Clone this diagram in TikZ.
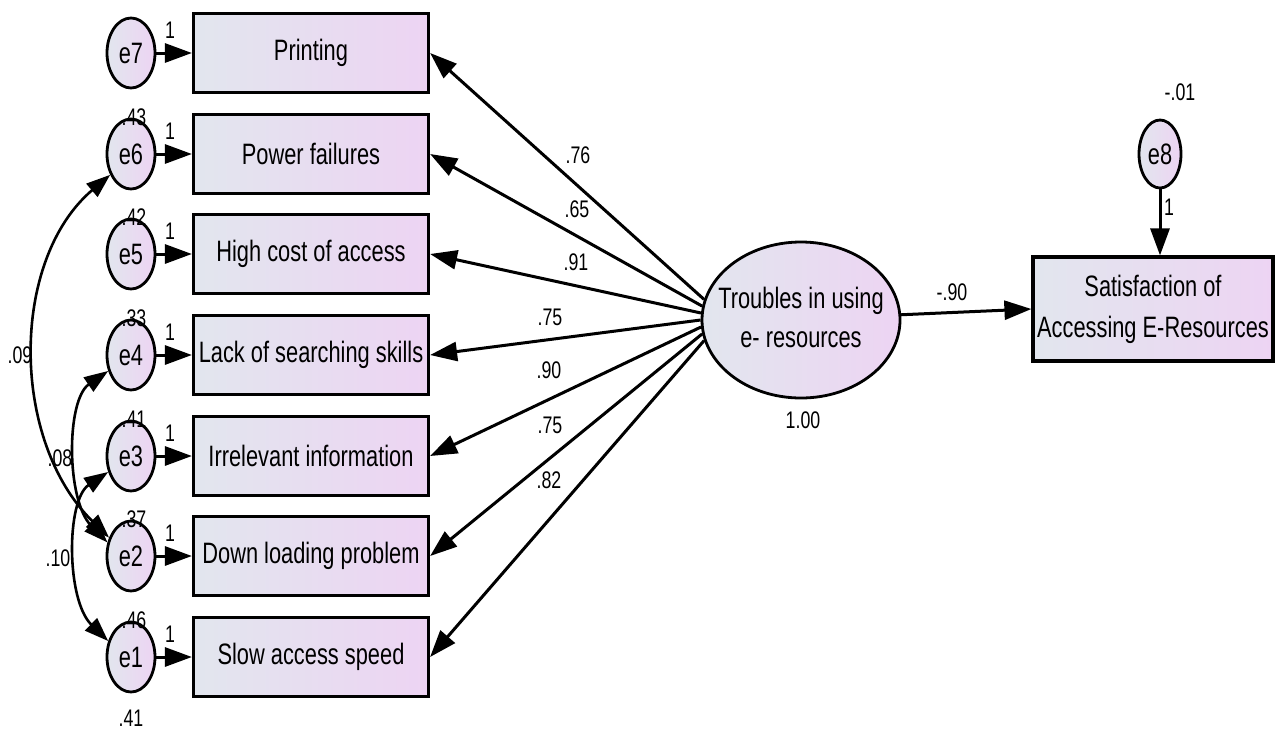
\documentclass[tikz,border=0pt]{standalone}
\usepackage{fontspec}
\setmainfont{Liberation Sans}
\usepackage{graphicx}
\usetikzlibrary{arrows.meta,shapes.geometric}
\definecolor{fillL}{RGB}{226,230,238}
\definecolor{fillR}{RGB}{237,212,243}
\newcommand\cmp[1]{\scalebox{0.74}[1]{#1}}
\newcommand\bigf{\fontsize{29.5}{39}\selectfont}
\newcommand\smallf{\fontsize{24}{28}\selectfont}
\begin{document}
\begin{tikzpicture}[x=1pt,y=-1pt,
  obs/.style={draw, line width=3.2pt, rectangle, minimum width=235pt, minimum height=79pt, inner sep=0pt, left color=fillL, right color=fillR, font=\bigf},
  err/.style={draw, ellipse, line width=2.8pt, minimum width=48pt, minimum height=70pt, inner sep=0pt, left color=fillL, right color=fillR},
  txt/.style={font=\bigf, inner sep=0pt},
  con/.style={line width=3pt, -{Triangle[length=27pt,width=19pt]}},
  cov/.style={line width=2.6pt, {Triangle[length=24pt,width=17pt]}-{Triangle[length=24pt,width=17pt]}},
  lab/.style={font=\smallf, inner sep=0pt}]
\useasboundingbox (0,0) rectangle (1276,729);
% observed boxes
\node[obs] (b7) at (311,53)  {\cmp{Printing}};
\node[obs] (b6) at (311,154) {\cmp{Power failures}};
\node[obs] (b5) at (311,254) {\cmp{High cost of access}};
\node[obs] (b4) at (311,355) {\cmp{Lack of searching skills}};
\node[obs] (b3) at (311,456) {\cmp{Irrelevant information}};
\node[obs] (b2) at (311,556) {\cmp{Down loading problem}};
\node[obs] (b1) at (311,657) {\cmp{Slow access speed}};
% error terms
\foreach \i/\y in {7/53,6/154,5/254,4/355,3/456,2/556,1/657}{
  \node[err] (e\i) at (131,\y) {};
  \node[txt] (et\i) at (e\i) {\cmp{e\i}};
  \draw[con] (e\i.east) -- (b\i.west);
}
% "1" labels
\node[lab] (one7) at (170,30)  {\cmp{1}};
\node[lab] (one6) at (170,131) {\cmp{1}};
\node[lab] (one5) at (170,231) {\cmp{1}};
\node[lab] (one4) at (170,332) {\cmp{1}};
\node[lab] (one3) at (170,433) {\cmp{1}};
\node[lab] (one2) at (170,533) {\cmp{1}};
\node[lab] (one1) at (170,634) {\cmp{1}};
% variances
\node[lab] (v6) at (134,117) {\cmp{.43}};
\node[lab] (v5) at (134,217) {\cmp{.42}};
\node[lab] (v4) at (134,318) {\cmp{.33}};
\node[lab] (v3) at (134,419) {\cmp{.41}};
\node[lab] (v2) at (134,519) {\cmp{.37}};
\node[lab] (v1) at (134,620) {\cmp{.46}};
\node[lab] (v0) at (131,718) {\cmp{.41}};
% covariances
\draw[cov] (e6.225) .. controls (10,260) and (10,440) .. (e2.140);
\draw[cov] (e4.215) .. controls (66,400) and (66,500) .. (e2.150);
\draw[cov] (e3.215) .. controls (66,500) and (66,600) .. (e1.145);
\node[lab] (c09) at (20,355) {\cmp{.09}};
\node[lab] (c08) at (60,458) {\cmp{.08}};
\node[lab] (c10) at (58,558) {\cmp{.10}};
% latent
\node[draw, ellipse, line width=2.8pt, minimum width=198pt, minimum height=156pt, inner sep=0pt, left color=fillL, right color=fillR] (t) at (801,320) {};
\node[txt] (tt) at (t) {\cmp{\begin{tabular}{@{}c@{}}Troubles in using\\e- resources\end{tabular}}};
\node[lab] (tv) at (803,420) {\cmp{1.00}};
\draw[con] (t.168) -- (b7.east);
\draw[con] (t.172) -- (b6.east);
\draw[con] (t.176) -- (b5.east);
\draw[con] (t.180) -- (b4.east);
\draw[con] (t.184) -- (b3.east);
\draw[con] (t.188) -- (b2.east);
\draw[con] (t.192) -- (b1.east);
\node[lab] (l7) at (578,155) {\cmp{.76}};
\node[lab] (l6) at (577,209) {\cmp{.65}};
\node[lab] (l5) at (576,262) {\cmp{.91}};
\node[lab] (l4) at (550,317) {\cmp{.75}};
\node[lab] (l3) at (549,370) {\cmp{.90}};
\node[lab] (l2) at (550,425) {\cmp{.75}};
\node[lab] (l1) at (549,480) {\cmp{.82}};
% outcome
\node[draw, rectangle, line width=3.2pt, minimum width=240pt, minimum height=104pt, inner sep=0pt, left color=fillL, right color=fillR, font=\fontsize{29.5}{41}\selectfont] (s) at (1153,309)
  {\cmp{\begin{tabular}{@{}c@{}}Satisfaction of\\Accessing E-Resources\end{tabular}}};
\draw[con] (t.3) -- (s.west);
\node[lab] (p90) at (952,292) {\cmp{-.90}};
\node[draw, ellipse, line width=2.8pt, minimum width=42pt, minimum height=68pt, inner sep=0pt, left color=fillL, right color=fillR] (e8) at (1160,154) {};
\node[txt] (et8) at (e8) {\cmp{e8}};
\draw[con] (e8.south) -- (e8.south |- s.north);
\node[lab] (v8) at (1180,92) {\cmp{-.01}};
\node[lab] (one8) at (1169,207) {\cmp{1}};
\end{tikzpicture}
\end{document}
